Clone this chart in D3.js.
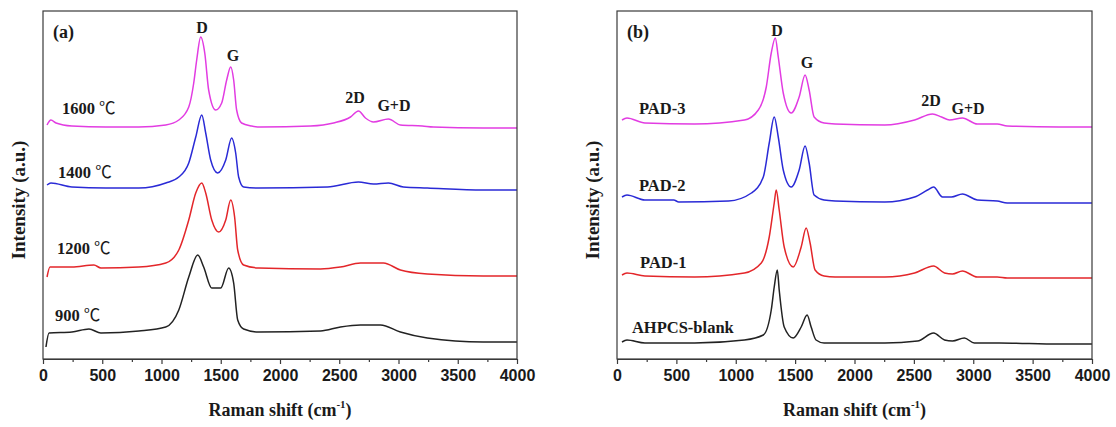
<!DOCTYPE html>
<html>
<head>
<meta charset="utf-8">
<script src="https://cdn.jsdelivr.net/npm/d3@7"></script>
<style>
  body { margin: 0; background: #fff; }
  svg { display: block; }
  .frame { fill: none; stroke: #3a3a3a; stroke-width: 1.2; }
  .axis path, .axis line { stroke: #3a3a3a; stroke-width: 1.2; }
  .axis text { font-family: "Liberation Sans", Arial, sans-serif; font-weight: bold; font-size: 16px; fill: #1a1a1a; }
  .spec { fill: none; stroke-width: 1.5; stroke-linejoin: round; }
  .lbl { font-family: "Liberation Serif", "Times New Roman", serif; font-weight: bold; fill: #1a1a1a; }
  .deg { font-family: "Noto Sans CJK SC", sans-serif; font-weight: normal; }
</style>
</head>
<body>
<script>
// Raman spectra: [shift (cm-1), offset intensity (a.u.)]
var a1600 = [[34,234],[67,239],[110,236],[244,233],[531,232],[809,232],[1036,234],[1146,239],[1230,252],[1272,276],[1297,299],[1331,322],[1365,306],[1398,269],[1457,249],[1508,256],[1550,279],[1584,292],[1609,279],[1634,249],[1676,236],[1761,233],[1837,232],[2258,233],[2452,236],[2595,242],[2662,248],[2721,241],[2789,237],[2915,240],[3016,234],[3201,233],[3294,232],[3715,231],[4000,231]];
var a1400 = [[34,174],[67,176],[244,172],[531,171],[809,171],[1036,176],[1146,182],[1230,196],[1289,222],[1340,244],[1373,226],[1415,199],[1474,186],[1542,199],[1592,221],[1626,206],[1651,182],[1693,172],[1820,171],[2401,172],[2662,177],[2789,175],[2915,176],[3041,172],[3243,171],[3715,169],[4000,169]];
var a1200 = [[34,82],[59,92],[244,92],[430,94],[489,91],[809,92],[1036,96],[1146,109],[1230,139],[1289,166],[1340,176],[1373,166],[1424,139],[1483,127],[1542,139],[1584,159],[1617,142],[1643,109],[1693,94],[1820,91],[2342,90],[2510,92],[2679,96],[2873,96],[3016,89],[3243,85],[3715,83],[4000,83]];
var a900 = [[25,12],[51,26],[244,27],[388,30],[489,26],[809,28],[1036,32],[1146,49],[1230,82],[1306,104],[1356,92],[1424,71],[1500,71],[1567,91],[1609,76],[1643,39],[1693,30],[1820,27],[2342,28],[2510,32],[2679,34],[2848,34],[3016,27],[3243,21],[3715,17],[4000,17]];

var pad3 = [[42,239],[84,241],[235,236],[654,235],[1073,239],[1190,249],[1257,272],[1299,306],[1333,321],[1358,302],[1400,266],[1467,246],[1534,262],[1584,284],[1618,269],[1660,242],[1744,236],[1836,235],[2255,234],[2506,239],[2657,245],[2733,242],[2800,239],[2909,241],[3034,235],[3202,235],[3286,233],[3722,232],[4000,232]];
var pad2 = [[42,162],[84,164],[235,159],[478,159],[520,157],[939,158],[1132,166],[1232,182],[1282,216],[1324,242],[1358,222],[1400,189],[1467,172],[1534,189],[1584,213],[1618,196],[1660,164],[1744,159],[1836,158],[2255,157],[2506,162],[2615,169],[2666,172],[2741,162],[2816,162],[2909,165],[3034,159],[3202,158],[3286,156],[3722,156],[4000,156]];
var pad1 = [[42,84],[84,86],[235,83],[654,82],[1073,86],[1215,96],[1282,122],[1324,156],[1341,169],[1366,149],[1408,112],[1484,92],[1551,112],[1593,131],[1626,116],[1668,89],[1744,83],[1836,82],[2255,82],[2506,86],[2666,93],[2758,86],[2825,85],[2909,88],[3034,82],[3202,82],[3286,81],[3722,81],[4000,81]];
var blank = [[42,17],[84,19],[235,16],[654,16],[1073,19],[1232,24],[1299,49],[1324,72],[1350,89],[1366,69],[1408,32],[1484,21],[1551,32],[1601,44],[1635,32],[1676,19],[1744,16],[1836,16],[2255,16],[2531,18],[2666,26],[2758,19],[2825,18],[2925,21],[3009,16],[3219,16],[3722,15],[4000,15]];

var colors = ["#e23ce2", "#2a2ad6", "#e3262a", "#222222"];

// sample labels: text, unit, shift, intensity (baseline)
var labelsA = [["1600 ", "\u2103", 160, 245], ["1400 ", "\u2103", 127, 181], ["1200 ", "\u2103", 118, 105], ["900 ", "\u2103", 101, 38]];
var labelsB = [["PAD-3", "", 185, 245], ["PAD-2", "", 185, 168], ["PAD-1", "", 194, 91], ["AHPCS-blank", "", 126, 26]];

// peak labels: text, shift, intensity (baseline)
var peaksA = [["D", 1342, 326], ["G", 1603, 298], ["2D", 2633, 256], ["G+D", 2962, 248]];
var peaksB = [["D", 1347, 323], ["G", 1600, 291], ["2D", 2644, 253], ["G+D", 2956, 245]];

var width = 1116, height = 427;
var plotTop = 11, plotBottom = 359;

var svg = d3.select("body").append("svg")
  .attr("width", width)
  .attr("height", height);

var y = d3.scaleLinear().domain([0, 348]).range([plotBottom, plotTop]);

function panel(left, right, series, labels, peaks, tag, titleX) {
  var x = d3.scaleLinear().domain([0, 4000]).range([left, right]);
  var g = svg.append("g");

  var line = d3.line()
    .curve(d3.curveMonotoneX)
    .x(function(d) { return x(d[0]); })
    .y(function(d) { return y(d[1]); });

  g.selectAll(".spec")
    .data(series)
    .enter()
    .append("path")
    .attr("class", "spec")
    .attr("stroke", function(d, i) { return colors[i]; })
    .attr("d", line);

  // minor ticks
  g.append("g")
    .attr("class", "axis")
    .attr("transform", "translate(0," + plotBottom + ")")
    .call(d3.axisBottom(x).tickValues(d3.range(250, 4000, 500)).tickSize(3).tickFormat(""))
    .select(".domain").remove();

  g.append("g")
    .attr("class", "axis")
    .attr("transform", "translate(0," + plotBottom + ")")
    .call(d3.axisBottom(x).ticks(8).tickFormat(d3.format("d")).tickSize(5).tickSizeOuter(0).tickPadding(6));

  g.append("rect")
    .attr("class", "frame")
    .attr("x", left)
    .attr("y", plotTop)
    .attr("width", right - left)
    .attr("height", plotBottom - plotTop);

  var s = g.selectAll(".sample")
    .data(labels)
    .enter()
    .append("text")
    .attr("class", "lbl sample")
    .attr("x", function(d) { return x(d[2]); })
    .attr("y", function(d) { return y(d[3]); })
    .attr("font-size", 16.5);
  s.append("tspan").text(function(d) { return d[0]; });
  s.append("tspan").attr("class", "deg").text(function(d) { return d[1]; });

  g.selectAll(".peak")
    .data(peaks)
    .enter()
    .append("text")
    .attr("class", "lbl peak")
    .attr("x", function(d) { return x(d[1]); })
    .attr("y", function(d) { return y(d[2]); })
    .attr("text-anchor", "middle")
    .attr("font-size", 16)
    .text(function(d) { return d[0]; });

  g.append("text")
    .attr("class", "lbl")
    .attr("x", x(84))
    .attr("y", y(321))
    .attr("font-size", 18)
    .text(tag);

  var xt = g.append("text")
    .attr("class", "lbl")
    .attr("x", (left + right) / 2)
    .attr("y", 416)
    .attr("text-anchor", "middle")
    .attr("font-size", 18);
  xt.append("tspan").text("Raman shift (cm");
  xt.append("tspan").attr("font-size", 11).attr("dy", -8).text("-1");
  xt.append("tspan").attr("dy", 8).text(")");

  g.append("text")
    .attr("class", "lbl")
    .attr("transform", "translate(" + titleX + "," + ((plotTop + plotBottom) / 2 + 15) + ")rotate(-90)")
    .attr("text-anchor", "middle")
    .attr("font-size", 19)
    .text("Intensity (a.u.)");
}

panel(43, 517, [a1600, a1400, a1200, a900], labelsA, peaksA, "(a)", 25);
panel(617, 1092, [pad3, pad2, pad1, blank], labelsB, peaksB, "(b)", 599);
</script>
</body>
</html>
